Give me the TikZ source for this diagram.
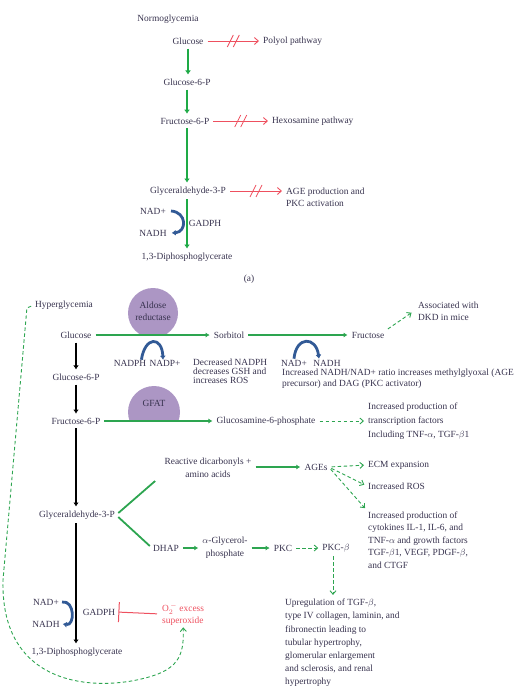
\documentclass[tikz,border=0pt]{standalone}
\usepackage{fontspec}
\setmainfont{Liberation Serif}
\usetikzlibrary{arrows.meta}
\definecolor{normgreen}{RGB}{30,170,70}
\definecolor{pathgreen}{RGB}{45,165,80}
\definecolor{blockred}{RGB}{238,80,95}
\definecolor{nadblue}{RGB}{50,90,150}
\definecolor{enzyme}{RGB}{172,150,196}
\definecolor{txtgray}{RGB}{55,50,78}
\tikzset{
  >=latex,
  lbl/.style={font=\fontsize{9.4}{13}\selectfont, text=txtgray, inner sep=1pt},
  txt/.style={lbl, align=left, anchor=west},
  normflow/.style={-{Latex[length=4pt,width=6pt]}, normgreen, line width=2.5pt, shorten <=3pt, shorten >=3pt},
  glyco/.style={-{Latex[length=4pt,width=5.5pt]}, black, line width=2.6pt, shorten <=3pt, shorten >=3pt},
  link/.style={-{Latex[length=4pt,width=5pt]}, pathgreen, line width=1.8pt, shorten <=3pt, shorten >=3pt},
  blocked/.style={-{Straight Barb[length=4pt,width=7pt]}, blockred, line width=0.9pt, shorten <=3pt, shorten >=3pt},
  effect/.style={-{Straight Barb[length=3.5pt,width=6pt]}, pathgreen, dash pattern=on 3.5pt off 2.5pt, line width=0.9pt, shorten <=3pt, shorten >=3pt},
  cofactor/.style={-{Latex[length=4pt,width=6pt]}, nadblue, line width=2.8pt},
  inhibit/.style={-{Bar[width=20pt,line width=1pt]}, blockred, line width=1pt, shorten <=4pt, shorten >=2pt},
  cutmark/.pic={\draw[-, shorten <=0pt, shorten >=0pt, blockred, line width=0.8pt] (-6,6)--(0,-6) (0,6)--(6,-6);}
}
\begin{document}
\begin{tikzpicture}[x=1pt,y=-1pt]
\useasboundingbox (0,0) rectangle (519,686);
% (a) normoglycemia
\node[lbl] (ng) at (168,19) {Normoglycemia};
\node[lbl] (glcA) at (188,41) {Glucose};
\node[lbl, anchor=west] (polyol) at (262,41) {Polyol pathway};
\node[lbl] (g6pA) at (187,82) {Glucose-6-P};
\node[lbl] (f6pA) at (185,121) {Fructose-6-P};
\node[lbl, anchor=west] (hexo) at (271,121) {Hexosamine pathway};
\node[lbl] (gapA) at (188,191) {Glyceraldehyde-3-P};
\node[txt, font=\fontsize{9.4}{12}\selectfont] (ageA) at (285,197) {AGE production and\\PKC activation};
\node[lbl] (nadA) at (153,211) {NAD+};
\node[lbl] (nadhA) at (153,233) {NADH};
\node[lbl] (gadphA) at (205,223) {GADPH};
\node[lbl] (dpgA) at (187,257) {1,3-Diphosphoglycerate};
\node[lbl] (capA) at (249,279) {(a)};
\draw[normflow] (glcA.south) -- (glcA.south |- g6pA.north);
\draw[normflow] (g6pA.south) -- (g6pA.south |- f6pA.north);
\draw[normflow] (g6pA.south |- f6pA.south) -- (g6pA.south |- gapA.north);
\draw[normflow] (g6pA.south |- gapA.south) -- (g6pA.south |- dpgA.north);
\draw[blocked] (glcA.east) -- (polyol.west) pic[pos=.5]{cutmark};
\draw[blocked] (f6pA.east) -- (hexo.west) pic[pos=.5]{cutmark};
\draw[blocked] (gapA.east) -- (gapA.east -| ageA.west) pic[pos=.5]{cutmark};
\draw[cofactor] ([xshift=4pt]nadA.east) .. controls (187,212) and (187,232) .. ([xshift=4pt]nadhA.east);
% (b) hyperglycemia
\begin{scope}
  \clip (110,280) rectangle (200,334);
  \fill[enzyme] (153,313) circle (25);
\end{scope}
\begin{scope}
  \clip (110,380) rectangle (200,420);
  \fill[enzyme] (154,412) circle (26);
\end{scope}
\node[lbl, align=center, font=\fontsize{9.4}{12}\selectfont] (aldose) at (153,311) {Aldose\\reductase};
\node[lbl] (gfat) at (154,403) {GFAT};
\node[lbl] (hyper) at (64,305) {Hyperglycemia};
\node[lbl] (glc) at (76,335) {Glucose};
\node[lbl] (g6p) at (76,377) {Glucose-6-P};
\node[lbl] (f6p) at (76,421) {Fructose-6-P};
\node[lbl] (gap) at (77,515) {Glyceraldehyde-3-P};
\node[lbl] (dpg) at (77,652) {1,3-Diphosphoglycerate};
\node[lbl] (nad) at (46,602) {NAD+};
\node[lbl] (nadh) at (46,624) {NADH};
\node[lbl] (gadph) at (99,612) {GADPH};
\node[txt, text=blockred, font=\fontsize{9.4}{12}\selectfont] (sox) at (161,614) {O$_2^{\,-}$ excess\\superoxide};
\node[lbl] (sorb) at (229,335) {Sorbitol};
\node[lbl] (fru) at (368,335) {Fructose};
\node[txt, font=\fontsize{9.4}{12}\selectfont] (dkd) at (417,311) {Associated with\\DKD in mice};
\node[lbl, inner sep=0pt] (nadph) at (130,363) {NADPH};
\node[lbl, inner sep=0pt] (nadp) at (165,363) {NADP+};
\node[txt, font=\fontsize{9.4}{9}\selectfont] (gsh) at (192,371) {Decreased NADPH\\decreases GSH and\\increases ROS};
\node[lbl] (nad2) at (294,363) {NAD+};
\node[lbl] (nadh2) at (327,363) {NADH};
\node[txt, font=\fontsize{9.4}{11}\selectfont] (ratio) at (281,379) {Increased NADH/NAD+ ratio increases methylglyoxal (AGE\\precursor) and DAG (PKC activator)};
\node[lbl] (glcn) at (266,421) {Glucosamine-6-phosphate};
\node[txt, font=\fontsize{9.4}{14}\selectfont] (tf) at (367,421) {Increased production of\\transcription factors\\Including TNF-$\alpha$, TGF-$\beta$1};
\node[lbl, align=center] (dicarb) at (208,468) {Reactive dicarbonyls +\\amino acids};
\node[lbl] (ages) at (316,467) {AGEs};
\node[txt] (ecm) at (367,465) {ECM expansion};
\node[txt] (ros) at (367,486) {Increased ROS};
\node[txt, font=\fontsize{9.4}{12.5}\selectfont] (cyto) at (367,540) {Increased production of\\cytokines IL-1, IL-6, and\\TNF-$\alpha$ and growth factors\\TGF-$\beta$1, VEGF, PDGF-$\beta$,\\and CTGF};
\node[lbl] (dhap) at (166,548) {DHAP};
\node[lbl, align=center] (agp) at (225,548) {$\alpha$-Glycerol-\\phosphate};
\node[lbl] (pkc) at (283,548) {PKC};
\node[lbl] (pkcb) at (336,548) {PKC-$\beta$};
\node[txt, font=\fontsize{9.4}{13.2}\selectfont] (upreg) at (284,643) {Upregulation of TGF-$\beta$,\\type IV collagen, laminin, and\\fibronectin leading to\\tubular hypertrophy,\\glomerular enlargement\\and sclerosis, and renal\\hypertrophy};
\draw[glyco] (glc.south) -- (glc.south |- g6p.north);
\draw[glyco] (glc.south |- g6p.south) -- (glc.south |- f6p.north);
\draw[glyco] (glc.south |- f6p.south) -- (glc.south |- gap.north);
\draw[glyco] (glc.south |- gap.south) -- (glc.south |- dpg.north);
\draw[link] (glc.east) -- (glc.east -| sorb.west);
\draw[link] (sorb.east) -- (sorb.east -| fru.west);
\draw[link] (f6p.east) -- (f6p.east -| glcn.west);
\draw[link, -] (gap.east) -- ([xshift=-6pt]dicarb.south west);
\draw[link, -] (gap.east) -- (dhap.west);
\draw[link] (dicarb.east |- ages.west) -- (ages.west);
\draw[link] (dhap.east) -- (dhap.east -| agp.west);
\draw[link] (agp.east |- dhap.east) -- (pkc.west);
\draw[effect] (fru.north east) -- ([xshift=-3pt]dkd.west);
\draw[effect] (glcn.east) -- (glcn.east -| tf.west);
\draw[effect] (ages.east) -- (ecm.west);
\draw[effect] (ages.east) -- (ros.west);
\draw[effect] (ages.east) -- (cyto.north west);
\draw[effect] (pkc.east) -- (pkcb.west);
\draw[effect] ([xshift=-3pt]pkcb.south) -- ([xshift=-3pt]pkcb.south |- upreg.north);
\draw[inhibit] (sox.west) -- (gadph.east);
\draw[cofactor] ([xshift=2pt]nad.east) .. controls (75,600) and (75,626) .. ([xshift=2pt]nadh.east);
\draw[cofactor] ([xshift=-5pt]nadph.north east) .. controls (145,336) and (162,336) .. ([xshift=-2pt]nadp.north);
\draw[cofactor] (nad2.north) .. controls (296,336) and (316,336) .. ([xshift=-8pt]nadh2.north);
\draw[effect] (hyper.west) -- ++(-7,3) -- (3,580) .. controls (0,695) and (110,692) .. (158,674) .. controls (180,665) and (184,652) .. ([yshift=2pt]sox.south);
\end{tikzpicture}
\end{document}
